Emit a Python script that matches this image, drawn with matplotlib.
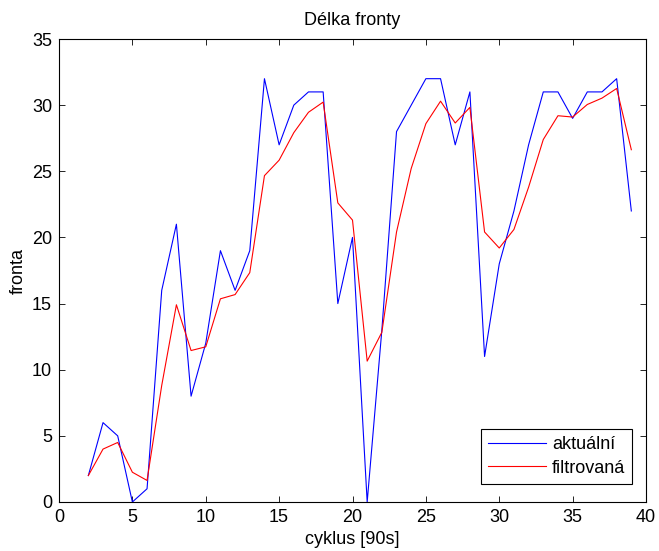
import matplotlib
matplotlib.use("Agg")
from matplotlib import pyplot as plt

plt.rcParams["font.family"] = ["Liberation Sans", "DejaVu Sans"]

cyklus = list(range(2, 40))
aktualni = [2, 6, 5, 0, 1, 16, 21, 8, 12, 19, 16, 19, 32, 27, 30, 31, 31, 15, 20,
            0, 13, 28, 30, 32, 32, 27, 31, 11, 18, 22, 27, 31, 31, 29, 31, 31, 32, 22]
filtrovana = [2.0, 4.0, 4.5, 2.25, 1.63, 8.81, 14.91, 11.45, 11.73, 15.36, 15.68,
              17.34, 24.67, 25.84, 27.92, 29.46, 30.23, 22.61, 21.31, 10.65, 12.83,
              20.41, 25.21, 28.6, 30.3, 28.65, 29.83, 20.41, 19.2, 20.6, 23.8,
              27.4, 29.2, 29.1, 30.05, 30.53, 31.26, 26.63]

fig = plt.figure(figsize=(6.59, 5.51), dpi=100)
ax = fig.add_axes([59 / 659, 1 - 502 / 551, (646 - 59) / 659, (502 - 39) / 551])

ax.plot(cyklus, aktualni, color="blue", lw=0.8, label="aktuální")
ax.plot(cyklus, filtrovana, color="red", lw=0.8, label="filtrovaná")

# Axis limits
ax.set_xlim(0, 40)
ax.set_ylim(0, 35)
ax.set_xticks(range(0, 41, 5))
ax.set_yticks(range(0, 36, 5))
ax.tick_params(direction="in", top=True, right=True, labelsize=13, length=4,
               width=0.6, pad=5)
for s in ax.spines.values():
    s.set_linewidth(0.8)

ax.set_title("Délka fronty", fontsize=13, pad=10)
ax.set_xlabel("cyklus [90s]", fontsize=13, labelpad=4)
ax.set_ylabel("fronta", fontsize=13, labelpad=4)

leg = ax.legend(loc="lower right", bbox_to_anchor=(0.977, 0.039), borderaxespad=0,
                fontsize=13, fancybox=False, framealpha=1, edgecolor="black",
                handlelength=3.2, handletextpad=0.35, borderpad=0.4,
                labelspacing=0.35)
leg.get_frame().set_linewidth(0.8)

fig.savefig("out.png", dpi=100)
